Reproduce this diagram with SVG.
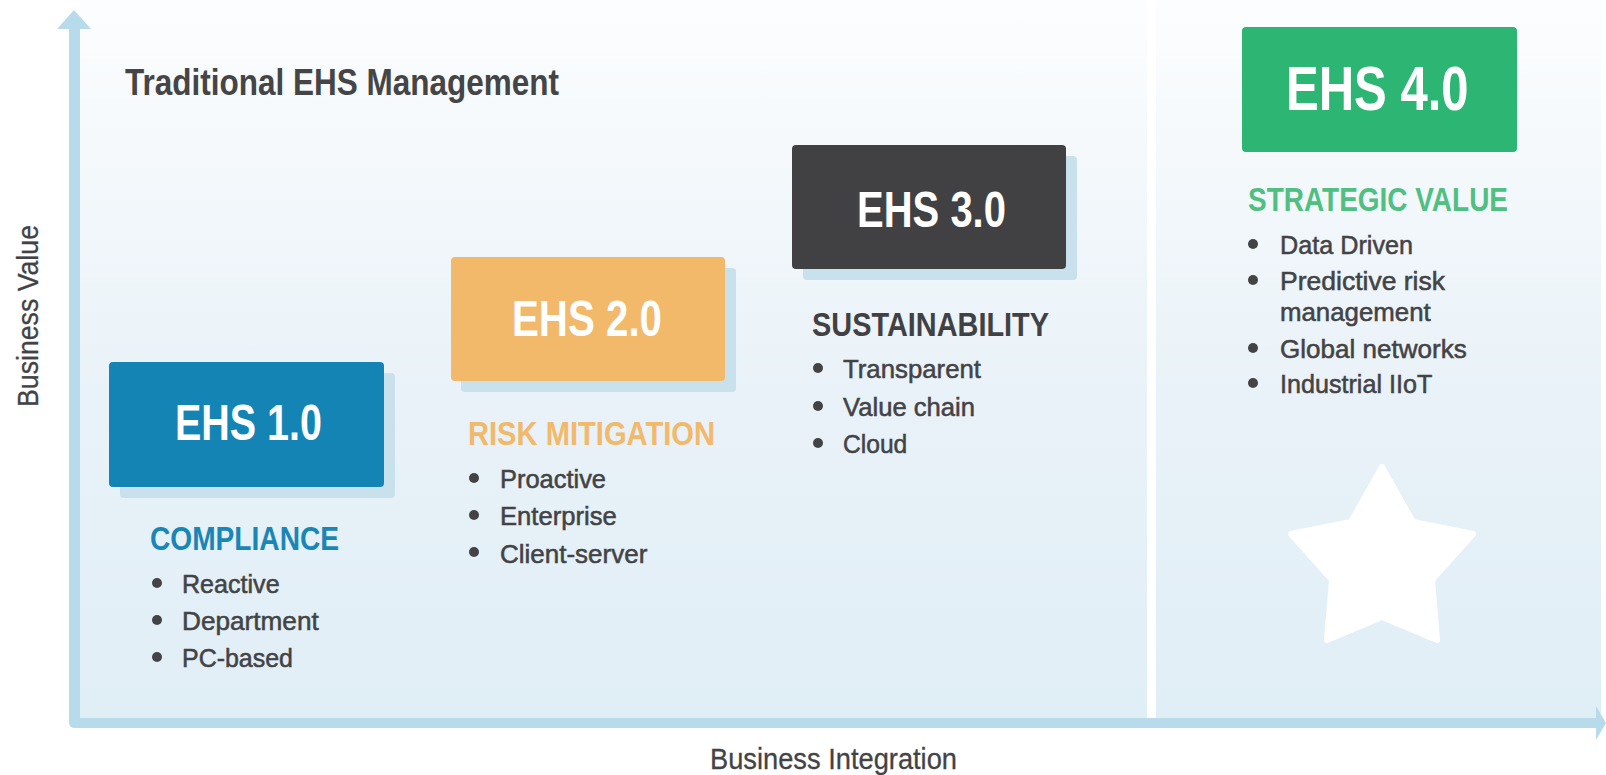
<svg xmlns="http://www.w3.org/2000/svg" width="1606" height="775" viewBox="0 0 1606 775">
<defs>
<linearGradient id="bg" x1="0" y1="0" x2="0" y2="1">
<stop offset="0" stop-color="#fcfdfe"/>
<stop offset="0.55" stop-color="#e9f2f8"/>
<stop offset="1" stop-color="#e0eef6"/>
</linearGradient>
<style>
text{font-family:"Liberation Sans",Arial,sans-serif;}
.lbl{font-weight:bold;fill:#ffffff;font-size:50px;}
.hd{font-weight:bold;font-size:32.5px;}
.bl{font-size:26.5px;fill:#434345;stroke:#434345;stroke-width:0.55px;}
.dot{fill:#434345;}
.ax{font-size:30px;fill:#434345;stroke:#434345;stroke-width:0.3px;}
.shadow{fill:#c9e1ed;}
.axis{fill:#b7dbea;}
</style>
</defs>
<rect width="1606" height="775" fill="#ffffff"/>
<g id="panels">
<rect x="80" y="0" width="1067" height="718" fill="url(#bg)"/>
<rect x="1156" y="0" width="445" height="718" fill="url(#bg)"/>
</g>
<g id="axes">
<path class="axis" d="M69,29 H57 L74,10 L91,29 H80 V718 H1596 V706 L1606,723 L1596,740 V728 H75 Q69,728 69,722 Z"/>
<text class="ax" x="0" y="0" text-anchor="middle" transform="translate(38,316) rotate(-90)" textLength="182" lengthAdjust="spacingAndGlyphs">Business Value</text>
<text class="ax" x="710" y="769" textLength="247" lengthAdjust="spacingAndGlyphs">Business Integration</text>
</g>
<g id="title">
<text x="125" y="95" font-size="37.5" font-weight="bold" fill="#454547" textLength="434" lengthAdjust="spacingAndGlyphs">Traditional EHS Management</text>
</g>
<g id="ehs1">
<rect class="shadow" x="120" y="373" width="275" height="125" rx="4"/>
<rect x="109" y="362" width="275" height="125" rx="4" fill="#1484b4"/>
<text class="lbl" x="175" y="440" textLength="147" lengthAdjust="spacingAndGlyphs">EHS 1.0</text>
<text class="hd" x="150" y="550" fill="#1a86b6" textLength="189" lengthAdjust="spacingAndGlyphs">COMPLIANCE</text>
<circle class="dot" cx="157" cy="583" r="5"/>
<text class="bl" x="182" y="593" textLength="97.6" lengthAdjust="spacingAndGlyphs">Reactive</text>
<circle class="dot" cx="157" cy="620" r="5"/>
<text class="bl" x="182" y="630" textLength="136.7" lengthAdjust="spacingAndGlyphs">Department</text>
<circle class="dot" cx="157" cy="657" r="5"/>
<text class="bl" x="182" y="667" textLength="111" lengthAdjust="spacingAndGlyphs">PC-based</text>
</g>
<g id="ehs2">
<rect class="shadow" x="461" y="268" width="275" height="124" rx="4"/>
<rect x="451" y="257" width="274" height="124" rx="4" fill="#f2b96b"/>
<text class="lbl" x="512" y="336" textLength="150" lengthAdjust="spacingAndGlyphs">EHS 2.0</text>
<text class="hd" x="468" y="445" fill="#f2b96b" textLength="247" lengthAdjust="spacingAndGlyphs">RISK MITIGATION</text>
<circle class="dot" cx="474" cy="478" r="5"/>
<text class="bl" x="500" y="488" textLength="106" lengthAdjust="spacingAndGlyphs">Proactive</text>
<circle class="dot" cx="474" cy="515" r="5"/>
<text class="bl" x="500" y="525" textLength="116.7" lengthAdjust="spacingAndGlyphs">Enterprise</text>
<circle class="dot" cx="474" cy="552" r="5"/>
<text class="bl" x="500" y="562.5" textLength="147.3" lengthAdjust="spacingAndGlyphs">Client-server</text>
</g>
<g id="ehs3">
<rect class="shadow" x="803" y="156" width="274" height="124" rx="4"/>
<rect x="792" y="145" width="274" height="124" rx="4" fill="#414143"/>
<text class="lbl" x="857" y="227" textLength="149" lengthAdjust="spacingAndGlyphs">EHS 3.0</text>
<text class="hd" x="812" y="336" fill="#414143" textLength="237" lengthAdjust="spacingAndGlyphs">SUSTAINABILITY</text>
<circle class="dot" cx="818" cy="368" r="5"/>
<text class="bl" x="843" y="378" textLength="138" lengthAdjust="spacingAndGlyphs">Transparent</text>
<circle class="dot" cx="818" cy="406" r="5"/>
<text class="bl" x="843" y="416" textLength="132" lengthAdjust="spacingAndGlyphs">Value chain</text>
<circle class="dot" cx="818" cy="443" r="5"/>
<text class="bl" x="843" y="453" textLength="64.3" lengthAdjust="spacingAndGlyphs">Cloud</text>
</g>
<g id="ehs4">
<rect x="1242" y="27" width="275" height="125" rx="4" fill="#2db673"/>
<text class="lbl" x="1286" y="110" textLength="182.6" lengthAdjust="spacingAndGlyphs" style="font-size:63px">EHS 4.0</text>
<text class="hd" x="1248" y="211" fill="#4fbf82" textLength="260" lengthAdjust="spacingAndGlyphs">STRATEGIC VALUE</text>
<circle class="dot" cx="1253" cy="244" r="5"/>
<text class="bl" x="1280" y="254" textLength="133" lengthAdjust="spacingAndGlyphs">Data Driven</text>
<circle class="dot" cx="1253" cy="280" r="5"/>
<text class="bl" x="1280" y="290" textLength="165" lengthAdjust="spacingAndGlyphs">Predictive risk</text>
<text class="bl" x="1280" y="321" textLength="150.7" lengthAdjust="spacingAndGlyphs">management</text>
<circle class="dot" cx="1253" cy="348" r="5"/>
<text class="bl" x="1280" y="358" textLength="186.7" lengthAdjust="spacingAndGlyphs">Global networks</text>
<circle class="dot" cx="1253" cy="383" r="5"/>
<text class="bl" x="1280" y="393" textLength="152.3" lengthAdjust="spacingAndGlyphs">Industrial IIoT</text>
<polygon points="1382,467 1413,522 1473,534 1432,580 1437,640 1382,617 1327,640 1332,580 1291,534 1351,522" fill="#ffffff" stroke="#ffffff" stroke-width="6" stroke-linejoin="round"/>
</g>
</svg>
